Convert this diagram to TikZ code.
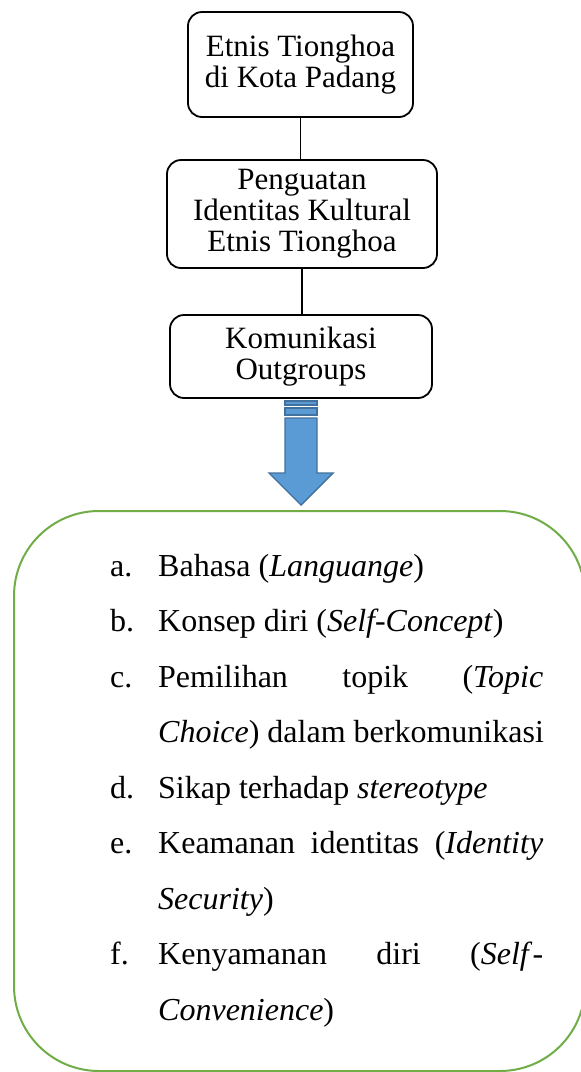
\documentclass[tikz,border=0pt]{standalone}
\usepackage{fontspec}
\setmainfont{Liberation Serif}
\definecolor{boxgreen}{HTML}{70AD47}
\definecolor{arrowfill}{HTML}{5B9BD5}
\definecolor{arrowline}{HTML}{41719C}
\begin{document}
\begin{tikzpicture}[x=1pt,y=-1pt,
  rbox/.style={draw, line width=1.8pt, rounded corners=14pt, align=center,
    font=\fontsize{31}{31}\selectfont, inner sep=0pt},
  conn/.style={line width=1.8pt},
  arrowst/.style={fill=arrowfill, draw=arrowline, line width=1.4pt, line join=miter},
  lab/.style={anchor=base west, inner sep=0pt, font=\fontsize{32}{32}\selectfont},
  item/.style={anchor=base west, inner sep=0pt, font=\fontsize{32}{32}\selectfont}]
\useasboundingbox (0,0) rectangle (581,1072);
\fill[white] (0,0) rectangle (581,1072);

\node[rbox, minimum width=225pt, minimum height=105pt] (b1) at (300.5,64.5)
  {Etnis Tionghoa\\di Kota Padang};
\node[rbox, minimum width=270pt, minimum height=108pt] (b2) at (302,214)
  {Penguatan\\Identitas Kultural\\Etnis Tionghoa};
\node[rbox, minimum width=262pt, minimum height=83pt] (b3) at (301,356.5)
  {Komunikasi\\Outgroups};

\draw[conn] (b1.south) -- (b2.north -| b1.south);
\draw[conn] (b2.south) -- (b3.north -| b2.south);

% striped down arrow
\draw[arrowst] (285,401) rectangle (317,405);
\draw[arrowst] (285,408) rectangle (317,415);
\draw[arrowst] (285,418) -- (317,418) -- (317,473) -- (333,473) -- (301,505)
  -- (269,473) -- (285,473) -- cycle;

% green box
\draw[boxgreen, line width=2pt, rounded corners=85pt] (14,511) rectangle (585,1071);

\node[lab] (la) at (110,576) {a.};
\node[item] (ta) at (158,576) {Bahasa (\textit{Languange})};
\node[lab] (lb) at (110,631.5) {b.};
\node[item] (tb) at (158,631.5) {Konsep diri (\textit{Self-Concept})};
\node[lab] (lc) at (110,687) {c.};
\node[item] (tc) at (158,687) {\makebox[385pt][s]{Pemilihan topik (\textit{Topic}}};
\node[item] (tc2) at (158,742.5) {\textit{Choice}) dalam berkomunikasi};
\node[lab] (ld) at (110,798) {d.};
\node[item] (td) at (158,798) {Sikap terhadap \textit{stereotype}};
\node[lab] (le) at (110,853.5) {e.};
\node[item] (te) at (158,853.5) {\makebox[385pt][s]{Keamanan identitas (\textit{Identity}}};
\node[item] (te2) at (158,909) {\textit{Security})};
\node[lab] (lf) at (110,964.5) {f.};
\node[item] (tf) at (158,964.5) {\makebox[385pt][s]{Kenyamanan diri (\textit{Self}-}};
\node[item] (tf2) at (158,1020) {\textit{Convenience})};
\end{tikzpicture}
\end{document}
